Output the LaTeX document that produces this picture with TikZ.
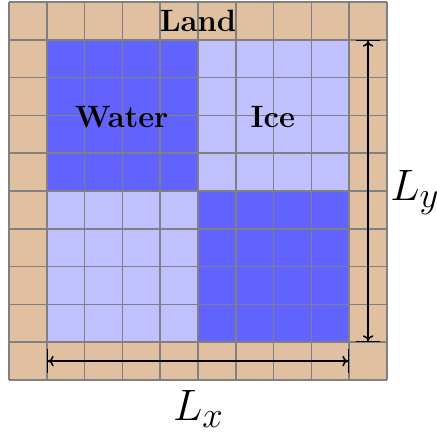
\documentclass[tikz,border=0pt]{standalone}
\usetikzlibrary{arrows.meta}
\definecolor{landc}{RGB}{224,192,160}
\definecolor{waterc}{RGB}{98,98,255}
\definecolor{icec}{RGB}{192,192,255}
\definecolor{gridc}{RGB}{128,128,128}
\begin{document}
\begin{tikzpicture}[
  gridline/.style={draw=gridc,line width=1.1pt},
  lbl/.style={inner sep=0pt,anchor=base,font=\huge\bfseries,scale=1.12,transform shape},
  mathlbl/.style={inner sep=0pt,anchor=base west,font=\Huge,scale=1.33,transform shape},
  dim/.style={line width=1.2pt,draw=black,
    {Bar[width=0.62cm]To[length=4pt,width=8pt]}-{To[length=4pt,width=8pt]Bar[width=0.62cm]}}
]
\useasboundingbox (-0.238,-1.429) rectangle (11.323,10.053);
% regions
\fill[landc] (0,0) rectangle (10,10);
\fill[waterc] (1,5) rectangle (5,9);
\fill[waterc] (5,1) rectangle (9,5);
\fill[icec] (5,5) rectangle (9,9);
\fill[icec] (1,1) rectangle (5,5);
% grid
\draw[gridline] (0,0) grid[step=1] (10,10);
% labels
\node[lbl] (land) at (5,9.21) {Land};
\node[lbl] (water) at (2.98,6.69) {Water};
\node[lbl] (ice) at (6.98,6.69) {Ice};
% dimension arrows
\coordinate (xa) at (1,0.5);
\coordinate (xb) at (9,0.5);
\coordinate (ya) at (9.5,9);
\coordinate (yb) at (9.5,1);
\draw[dim] (xa) -- (xb);
\draw[dim] (ya) -- (yb);
\node[mathlbl] (lx) at (4.33,-1.07) {$L_x$};
\node[mathlbl] (ly) at (10.08,4.74) {$L_y$};
\end{tikzpicture}
\end{document}
